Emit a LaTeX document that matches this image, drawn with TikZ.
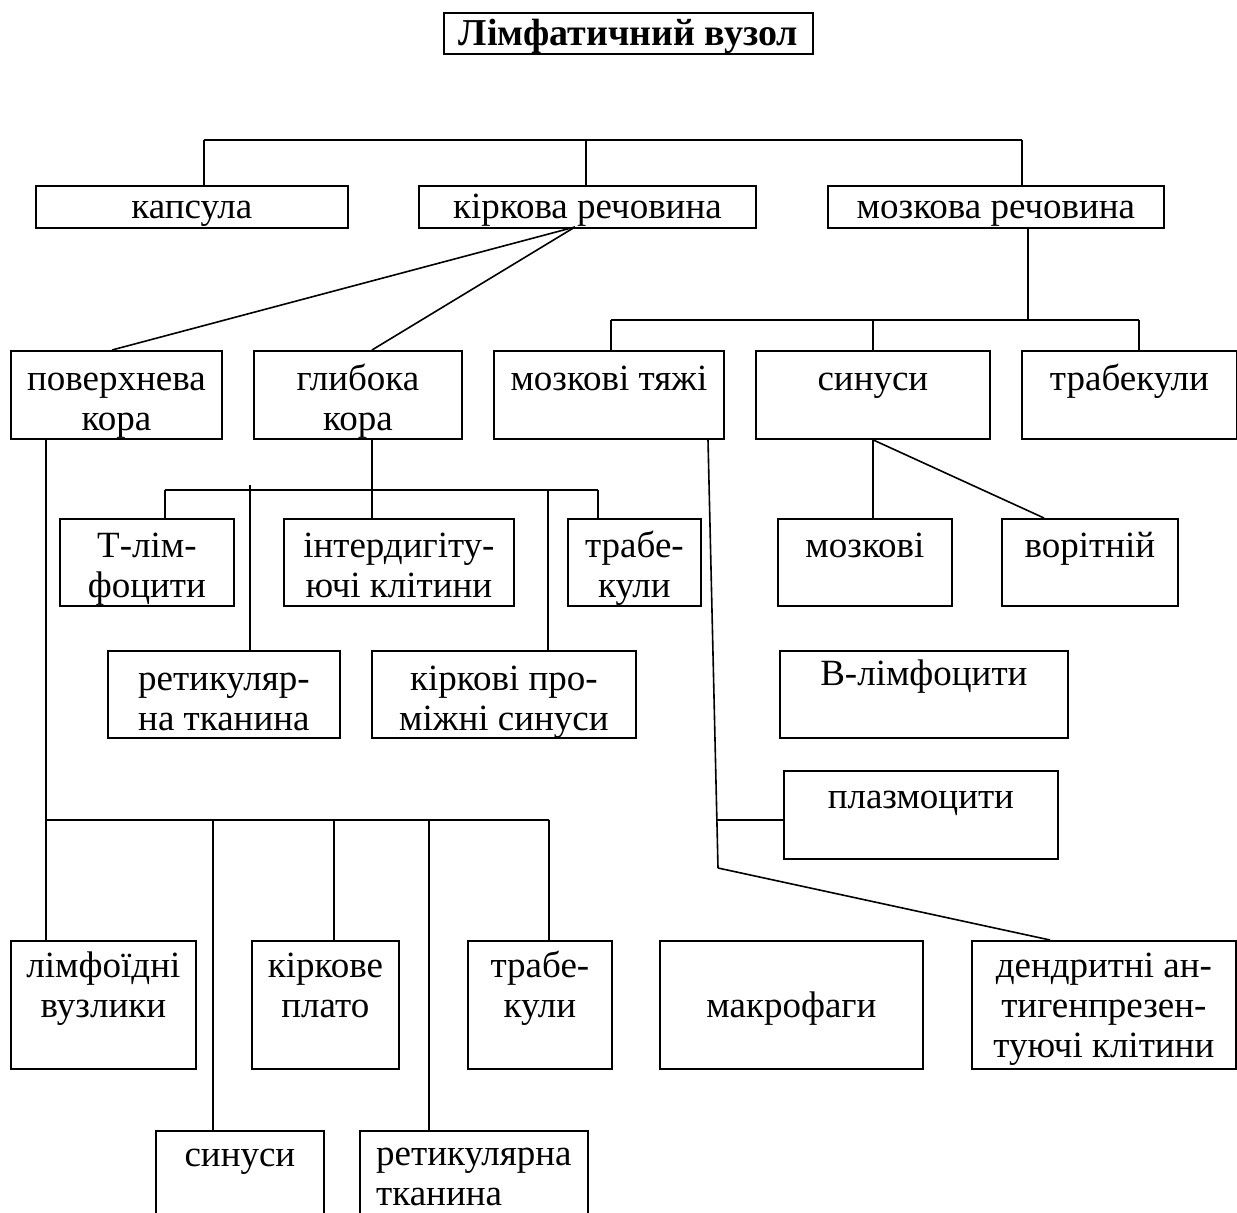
\documentclass[tikz,border=0pt]{standalone}
\usepackage{fontspec}
\setmainfont{Liberation Serif}
% box node plus its top-aligned caption:
% [alignment]{name}{x1}{y1}{x2}{y2}{caption drop}{caption}
\newcommand\cbox[8][center]{%
  \node[box, minimum width={(#5-#3)*0.5pt}, minimum height={(#6-#4)*0.5pt}] (#2) at (#3,#4) {};
  \node[lbl, align=#1, yshift={-(#7)*0.5pt}] (#2-t) at (#2.north) {\strut #8};
}
\begin{document}
\begin{tikzpicture}[x=0.5pt, y=-0.5pt, line width=0.9pt,
  box/.style={draw, rectangle, inner sep=0pt, anchor=north west},
  lbl/.style={anchor=north, inner sep=0pt, font=\fontsize{18.5}{20}\selectfont},
  link/.style={line width=0.8pt}]
\clip (0,0) rectangle (1237,1213);
\fill[white] (0,0) rectangle (1237,1213);

% boxes
\cbox{title}{443}{12}{812}{53}{5}{\fontsize{19}{20}\selectfont\bfseries Лімфатичний вузол}
\cbox{kaps}{35}{185}{347}{227}{5}{капсула}
\cbox{kirk}{418}{185}{755}{227}{5}{кіркова речовина}
\cbox{mozk}{827}{185}{1163}{227}{5}{мозкова речовина}
\cbox{pov}{10}{350}{221}{438}{12}{поверхнева\\кора}
\cbox{glyb}{253}{350}{461}{438}{12}{глибока\\кора}
\cbox{tyazh}{493}{350}{723}{438}{12}{мозкові тяжі}
\cbox{sin}{755}{350}{989}{438}{12}{синуси}
\cbox{trab}{1021}{350}{1236}{438}{12}{трабекули}
\cbox{tlim}{59}{518}{233}{605}{11}{Т-лім-\\фоцити}
\cbox{interd}{283}{518}{513}{605}{11}{інтердигіту-\\ючі клітини}
\cbox{trabg}{567}{518}{700}{605}{11}{трабе-\\кули}
\cbox{mozkv}{777}{518}{951}{605}{11}{мозкові}
\cbox{vorit}{1001}{518}{1177}{605}{11}{ворітній}
\cbox{retik}{107}{650}{339}{737}{12}{ретикуляр-\\на тканина}
\cbox{prom}{371}{650}{635}{737}{12}{кіркові про-\\міжні синуси}
\cbox{blim}{779}{650}{1067}{737}{7}{В-лімфоцити}
\cbox{plazm}{783}{770}{1057}{858}{10}{плазмоцити}
\cbox{limf}{10}{940}{195}{1068}{9}{лімфоїдні\\вузлики}
\cbox{plato}{251}{940}{398}{1068}{9}{кіркове\\плато}
\cbox{trabp}{467}{940}{611}{1068}{9}{трабе-\\кули}
\cbox{makro}{659}{940}{922}{1068}{49}{макрофаги}
\cbox{dendr}{971}{940}{1235}{1068}{9}{дендритні ан-\\тигенпрезен-\\туючі клітини}
\cbox{sinp}{155}{1130}{323}{1260}{8}{синуси}
\cbox[left]{retp}{359}{1130}{587}{1260}{7}{ретикулярна\\тканина}

% top level bus
\coordinate (tb1) at (204,140);
\coordinate (tb2) at (586,140);
\coordinate (tb3) at (1022,140);
\draw[link] (tb1) -- (tb3);
\draw[link] (tb1) -- (tb1 |- kaps.north);
\draw[link] (tb2) -- (tb2 |- kirk.north);
\draw[link] (tb3) -- (tb3 |- mozk.north);

% cortex
\coordinate (ks) at (575,227);
\draw[link] (ks) -- (pov.north -| 112,0);
\draw[link] (ks) -- (glyb.north -| 372,0);

% medulla
\coordinate (mb) at (1028,320);
\coordinate (mbL) at (611,320);
\coordinate (mbR) at (1139,320);
\draw[link] (mozk.south -| mb) -- (mb);
\draw[link] (mbL) -- (mbR);
\draw[link] (mbL) -- (mbL |- tyazh.north);
\draw[link] (sin.north |- mb) -- (sin.north);
\draw[link] (mbR) -- (mbR |- trab.north);

% deep cortex
\coordinate (gb) at (372,490);
\coordinate (gbL) at (165,490);
\coordinate (gbR) at (598,490);
\coordinate (gr) at (250,485);
\coordinate (gp) at (548,490);
\draw[link] (glyb.south -| gb) -- (gb);
\draw[link] (gbL) -- (gbR);
\draw[link] (gbL) -- (gbL |- tlim.north);
\draw[link] (gb) -- (gb |- interd.north);
\draw[link] (gbR) -- (gbR |- trabg.north);
\draw[link] (gr) -- (gr |- retik.north);
\draw[link] (gp) -- (gp |- prom.north);

% sinuses
\draw[link] (sin.south) -- (sin.south |- mozkv.north);
\draw[link] (sin.south) -- (vorit.north -| 1044,0);

% medullary cords
\coordinate (tz1) at (708,438);
\coordinate (tzp) at (717,820);
\coordinate (tz2) at (718,868);
\draw[link] (tyazh.south -| tz1) -- (tz2);
\draw[link] (tzp) -- (tzp -| plazm.west);
\draw[link] (tz2) -- (dendr.north -| 1050,0);

% surface cortex
\coordinate (pb) at (46,820);
\coordinate (pbR) at (549,820);
\coordinate (ps) at (213,820);
\coordinate (pp) at (334,820);
\coordinate (pr) at (429,820);
\draw[link] (pov.south -| pb) -- (pb) -- (pbR);
\draw[link] (pb) -- (pb |- limf.north);
\draw[link] (ps) -- (ps |- sinp.north);
\draw[link] (pp) -- (pp |- plato.north);
\draw[link] (pr) -- (pr |- retp.north);
\draw[link] (pbR) -- (pbR |- trabp.north);
\end{tikzpicture}
\end{document}
